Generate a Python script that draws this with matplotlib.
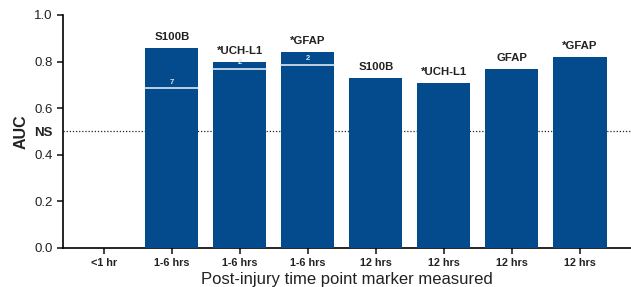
import matplotlib
matplotlib.use("Agg")
import matplotlib.pyplot as plt

plt.rcParams['font.family'] = ['Liberation Sans', 'DejaVu Sans']

categories = ["<1 hr", "1-6 hrs", "1-6 hrs", "1-6 hrs", "12 hrs", "12 hrs", "12 hrs", "12 hrs"]
auc = [None, 0.86, 0.80, 0.84, 0.73, 0.71, 0.77, 0.82]
markers = ["", "S100B", "*UCH-L1", "*GFAP", "S100B", "*UCH-L1", "GFAP", "*GFAP"]
inner_line = [None, 0.685, 0.768, 0.785, None, None, None, None]
inner_label = ["", "7", "2", "2", "", "", "", ""]
ns_level = 0.5
yticks = [0.0, 0.2, 0.4, 0.6, 0.8, 1.0]

bar_color = '#034b8c'

fig = plt.figure(figsize=(6.31, 2.87), dpi=100)
ax = fig.add_axes([0.0998, 0.136, 0.9002, 0.812])

x = list(range(len(categories)))
width = 0.78
for i, v in enumerate(auc):
    if v is None:
        continue
    ax.bar(i, v, width=width, color=bar_color, zorder=3)
    ax.text(i, v + 0.025, markers[i], ha='center', va='bottom', fontsize=8.2,
            fontweight='bold', color='#222222', zorder=4)
    if inner_line[i] is not None:
        ax.plot([i - width / 2, i + width / 2], [inner_line[i]] * 2,
                color='#dfe7f1', lw=1.2, zorder=4)
        ax.text(i, inner_line[i] + 0.012, inner_label[i], ha='center', va='bottom',
                fontsize=5.5, fontweight='bold', color='#dfe7f1', zorder=4)

ax.axhline(ns_level, color='#222222', lw=0.9, ls=(0, (1, 1.5)), zorder=1)

ax.set_xlim(-0.6, 7.75)
ax.set_ylim(0, 1.0)
ax.set_xticks(x)
ax.set_xticklabels(categories, fontsize=7.8, fontweight='bold', color='#222222')
ax.set_yticks(yticks + [ns_level])
ax.set_yticklabels([f"{t:.1f}" for t in yticks] + ["NS"], fontsize=9.5, color='#222222')
ytl = ax.get_yticklabels()
ytl[-1].set_fontweight('bold')
ax.yaxis.get_major_ticks()[-1].tick1line.set_visible(False)

for s in ['top', 'right']:
    ax.spines[s].set_visible(False)
ax.spines['left'].set_linewidth(1.2)
ax.spines['bottom'].set_linewidth(1.2)
ax.tick_params(axis='both', length=4, width=1.2, color='#222222')
ax.tick_params(axis='x', pad=3)

ax.set_ylabel("AUC", fontsize=11.5, fontweight='bold', color='#222222', labelpad=4)
ax.set_xlabel("Post-injury time point marker measured", fontsize=12, color='#222222', labelpad=3)

fig.savefig("out.png", dpi=100)
